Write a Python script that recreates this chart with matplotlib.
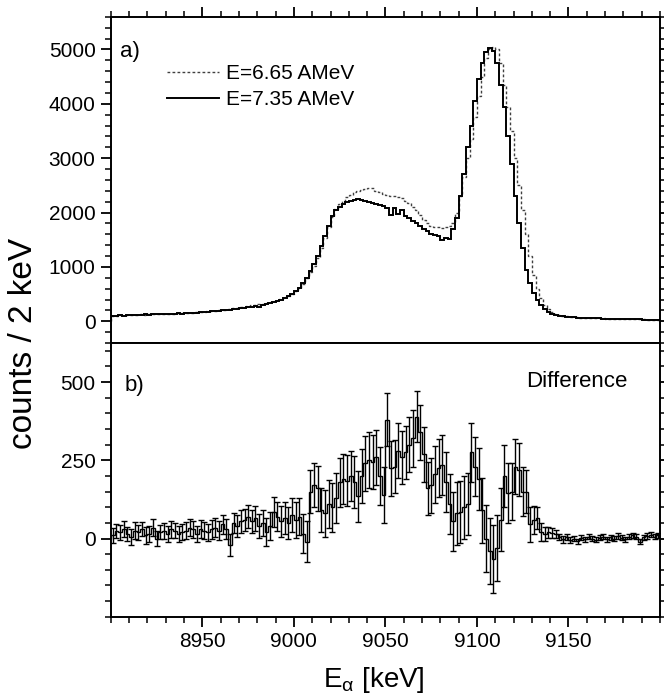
import numpy as np
import matplotlib
matplotlib.use("Agg")
import matplotlib.pyplot as plt
from matplotlib.ticker import MultipleLocator

plt.rcParams['font.family'] = ['Liberation Sans', 'DejaVu Sans']
plt.rcParams['mathtext.fontset'] = 'custom'
plt.rcParams['mathtext.rm'] = 'Liberation Sans'
plt.rcParams['mathtext.it'] = 'Liberation Sans'

bin_start = 8900
bin_width = 2

counts_735 = [
    100, 105, 110, 105, 115, 110, 120, 115, 120, 125, 120, 125, 130, 125, 135, 130, 140, 135, 145, 140, 150, 155, 150, 160, 165,
    170, 175, 180, 185, 195, 200, 205, 215, 220, 230, 240, 245, 260, 270, 280, 270, 300, 310, 330, 350, 370, 395, 420, 460, 500,
    560, 620, 700, 800, 920, 1050, 1200, 1380, 1560, 1760, 1930, 2040, 2110, 2160, 2190, 2220, 2230, 2240, 2230, 2220, 2200, 2170, 2150, 2140, 2120,
    2090, 1950, 2080, 1970, 2040, 1940, 1900, 1850, 1800, 1750, 1700, 1660, 1600, 1580, 1560, 1500, 1540, 1510, 1700, 1900, 2300, 2700, 3200, 3600, 4050,
    4450, 4750, 4950, 5020, 4980, 4750, 4350, 3950, 3400, 2900, 2300, 1800, 1350, 950, 700, 520, 400, 300, 220, 170, 140, 120, 100, 90, 80,
    75, 70, 68, 65, 62, 60, 58, 55, 52, 50, 48, 46, 45, 44, 42, 40, 38, 36, 35, 34, 32, 30, 28, 26, 25,
]

counts_665 = [
    105, 100, 110, 115, 110, 115, 120, 120, 125, 120, 125, 130, 125, 135, 130, 140, 135, 140, 145, 150, 150, 160, 160, 165, 170,
    175, 180, 190, 195, 200, 210, 215, 225, 235, 245, 255, 265, 275, 290, 300, 310, 320, 335, 350, 370, 390, 410, 440, 470, 510,
    560, 620, 690, 790, 900, 1020, 1170, 1350, 1540, 1740, 1920, 2060, 2150, 2220, 2280, 2330, 2370, 2390, 2420, 2440, 2460, 2450, 2400, 2380, 2340,
    2330, 2310, 2300, 2290, 2260, 2220, 2170, 2110, 2050, 1950, 1860, 1800, 1760, 1740, 1740, 1720, 1730, 1750, 1800, 2000, 2300, 2650, 3000, 3350, 3750,
    4150, 4500, 4850, 5000, 5050, 5000, 4750, 4350, 3950, 3500, 3000, 2500, 2050, 1600, 1200, 850, 600, 420, 300, 220, 170, 140, 115, 100, 90,
    80, 75, 72, 68, 65, 62, 60, 57, 55, 52, 50, 48, 46, 45, 43, 41, 39, 37, 36, 35, 33, 31, 29, 27, 26,
]

difference = [
    10, 25, 20, 30, 15, 5, 25, 20, 30, 10, 15, 35, 0, 20, 25, 15, 30, 25, 15, 20, 25, 35, 30, 15, 30,
    25, 20, 30, 35, 25, 45, 30, -20, 50, 40, 55, 60, 70, 55, 65, 40, 50, 20, 40, 85, 70, 55, 65, 50, 75,
    60, 70, 15, -10, 150, 170, 160, 90, 80, 110, 100, 130, 180, 190, 185, 200, 180, 135, 200, 240, 250, 245, 260, 200, 140,
    380, 225, 230, 280, 260, 275, 300, 320, 390, 340, 270, 160, 170, 205, 225, 235, 180, 110, 55, 80, 85, 100, 110, 275, 230,
    190, 90, 0, -40, -65, -30, 60, 200, 145, 150, 230, 220, 150, 150, 45, 60, 65, 20, 15, 20, 18, 15, 5, -3, 5,
    -5, 0, -8, 2, -3, 5, 0, -4, 3, 6, -2, 4, 0, 8, 3, -2, 5, 10, 6, -10, 4, 8, 12, 5, 10,
]

difference_err = [
    25, 22, 24, 26, 23, 25, 27, 24, 22, 26, 25, 28, 24, 23, 26, 25, 27, 24, 26, 25, 28, 26, 27, 25, 28,
    28, 27, 30, 29, 31, 30, 32, 35, 33, 34, 36, 35, 38, 37, 40, 38, 42, 45, 44, 48, 46, 50, 52, 50, 55,
    58, 60, 62, 65, 68, 70, 72, 70, 74, 76, 78, 80, 78, 80, 82, 80, 84, 82, 85, 88, 90, 86, 88, 92, 90,
    85, 88, 86, 88, 85, 86, 88, 90, 80, 88, 88, 86, 88, 90, 92, 95, 95, 95, 95, 100, 100, 100, 100, 95, 95,
    100, 105, 108, 105, 108, 105, 100, 98, 95, 92, 88, 85, 78, 70, 55, 45, 35, 28, 22, 18, 15, 12, 10, 10, 9,
    9, 8, 8, 8, 8, 8, 8, 8, 8, 8, 8, 8, 8, 8, 8, 8, 8, 8, 8, 8, 8, 8, 8, 8, 8,
]

x_ticks = [8950, 9000, 9050, 9100, 9150]
top_yticks = [0, 1000, 2000, 3000, 4000, 5000]
bot_yticks = [0, 250, 500]

n = len(counts_735)
edges = bin_start + bin_width * np.arange(n + 1)
centers = 0.5 * (edges[:-1] + edges[1:])

fig = plt.figure(figsize=(6.64, 7.0), dpi=100)
ax1 = fig.add_axes([0.167, 0.51, 0.827, 0.466])
ax2 = fig.add_axes([0.167, 0.119, 0.827, 0.391])

# Top panel
ax1.stairs(counts_665, edges, color='0.25', lw=1.0, linestyle=(0, (2.0, 1.6)), label='E=6.65 AMeV')
ax1.stairs(counts_735, edges, color='black', lw=1.4, label='E=7.35 AMeV')
ax1.set_xlim(8900, 9200)
ax1.set_ylim(-400, 5600)
ax1.set_yticks(top_yticks)
ax1.yaxis.set_minor_locator(MultipleLocator(200))
ax1.set_xticks(x_ticks)
ax1.xaxis.set_minor_locator(MultipleLocator(10))
ax1.tick_params(axis='x', which='both', direction='out', top=True, bottom=True, labelbottom=False)
ax1.tick_params(axis='y', which='both', direction='out', left=True, right=True)
ax1.text(0.017, 0.893, 'a)', transform=ax1.transAxes, fontsize=16, va='center', ha='left')
leg = ax1.legend(loc='upper left', bbox_to_anchor=(0.075, 0.9), frameon=False, fontsize=15,
                 handlelength=2.5, handletextpad=0.35, labelspacing=0.35, borderpad=0.2)

# Bottom panel
ax2.stairs(difference, edges, color='black', lw=1.0)
ax2.errorbar(centers, difference, yerr=difference_err, fmt='none', ecolor='black',
             elinewidth=1.0, capsize=2.0, capthick=1.0)
ax2.set_xlim(8900, 9200)
ax2.set_ylim(-250, 625)
ax2.set_yticks(bot_yticks)
ax2.yaxis.set_minor_locator(MultipleLocator(50))
ax2.set_xticks(x_ticks)
ax2.xaxis.set_minor_locator(MultipleLocator(10))
ax2.tick_params(axis='x', which='both', direction='out', top=False, bottom=True)
ax2.tick_params(axis='y', which='both', direction='out', left=True, right=True)
ax2.text(0.025, 0.845, 'b)', transform=ax2.transAxes, fontsize=16, va='center', ha='left')
ax2.text(0.94, 0.86, 'Difference', transform=ax2.transAxes, fontsize=16, va='center', ha='right')

for ax in (ax1, ax2):
    for s in ax.spines.values():
        s.set_linewidth(1.4)
    ax.tick_params(which='major', length=7, width=1.3, labelsize=15, pad=4)
    ax.tick_params(which='minor', length=4, width=1.1)

fig.text(0.036, 0.51, 'counts / 2 keV', rotation=90, fontsize=24, va='center', ha='center')
fig.text(0.563, 0.028, r'E$_\alpha$ [keV]', fontsize=20, va='center', ha='center')

fig.savefig('out.png', dpi=100)
